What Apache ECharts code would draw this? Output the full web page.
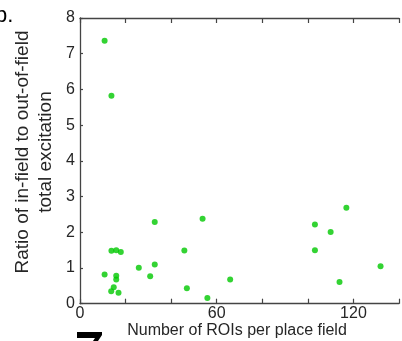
<!DOCTYPE html>
<html>
<head>
<meta charset="utf-8">
<script src="https://cdn.jsdelivr.net/npm/echarts@6/dist/echarts.min.js"></script>
<style>
  html, body { margin: 0; padding: 0; background: #fff; }
  #chart { width: 402px; height: 341px; }
</style>
</head>
<body>
<div id="chart"></div>
<script>
// number of ROIs per place field (x) and in-field / out-of-field ratio (y)
var roiCounts = [10.8, 13.8, 10.8, 13.8, 15.9, 17.9, 15.9, 15.9, 14.8, 13.7, 16.9, 25.8, 30.8,
  32.8, 32.8, 45.8, 46.9, 53.8, 55.9, 65.9, 103.1, 110.0, 116.9, 103.1, 131.9, 113.9];
var ratios = [7.36, 5.82, 0.82, 1.48, 1.50, 1.45, 0.78, 0.68, 0.46, 0.35, 0.31, 1.01, 0.77,
  2.29, 1.10, 1.49, 0.43, 2.38, 0.16, 0.68, 2.22, 2.01, 2.69, 1.50, 1.05, 0.61];
var xTickLabels = [0, 60, 120];

var axisColor = '#444';
var textColor = '#262626';
var font = 'Liberation Sans, Arial, sans-serif';

var points = roiCounts.map(function(x, i) {
  return [x, ratios[i]];
});

var chart = echarts.init(document.getElementById('chart'), null, { renderer: 'canvas' });

var baseX = {
  type: 'value',
  min: 0,
  max: 140,
  interval: 20,
  splitLine: { show: false },
  axisLine: { show: true, onZero: false, lineStyle: { color: axisColor, width: 1.3 } },
  axisTick: { show: true, inside: true, length: 5, lineStyle: { color: axisColor, width: 1.2 } },
};

chart.setOption({
  animation: false,
  grid: { left: 80, top: 18, width: 331, height: 285.7 },
  xAxis: [
    Object.assign({}, baseX, {
      position: 'bottom',
      axisLabel: {
        color: textColor,
        fontSize: 16,
        fontFamily: font,
        margin: 2,
        formatter: function(v) {
          return xTickLabels.indexOf(v) >= 0 ? String(v) : '';
        },
      },
    }),
    Object.assign({}, baseX, {
      position: 'top',
      axisLabel: { show: false },
    }),
  ],
  yAxis: {
    type: 'value',
    min: 0,
    max: 8,
    interval: 1,
    splitLine: { show: false },
    axisLine: { show: true, onZero: false, lineStyle: { color: axisColor, width: 1.3 } },
    axisTick: { show: true, inside: true, length: 3, lineStyle: { color: axisColor, width: 1.2 } },
    axisLabel: { color: textColor, fontSize: 16, fontFamily: font, margin: 5 },
  },
  series: [
    {
      type: 'scatter',
      xAxisIndex: 0,
      data: points,
      symbol: 'circle',
      symbolSize: 6,
      itemStyle: { color: 'rgb(0,200,0)' },
    },
  ],
  graphic: [
    {
      type: 'text',
      x: 34,
      y: 152,
      rotation: Math.PI / 2,
      style: {
        text: 'Ratio of in-field to out-of-field\ntotal excitation',
        fill: textColor,
        font: '19px ' + font,
        lineHeight: 23,
        align: 'center',
        verticalAlign: 'middle',
      },
    },
    {
      type: 'text',
      x: 237,
      y: 331,
      style: {
        text: 'Number of ROIs per place field',
        fill: textColor,
        font: '16px ' + font,
        align: 'center',
        verticalAlign: 'middle',
      },
    },
    {
      // panel letter, cut off at the left edge
      type: 'text',
      x: -5,
      y: 27,
      style: { text: 'b.', fill: '#000', font: '22px ' + font, verticalAlign: 'bottom' },
    },
    {
      // fragment of the neighbouring panel
      type: 'polygon',
      shape: {
        points: [[77, 332], [102, 332], [102, 335], [98, 341], [93, 341], [95, 338], [77, 338]],
      },
      style: { fill: '#000' },
    },
  ],
});
</script>
</body>
</html>
